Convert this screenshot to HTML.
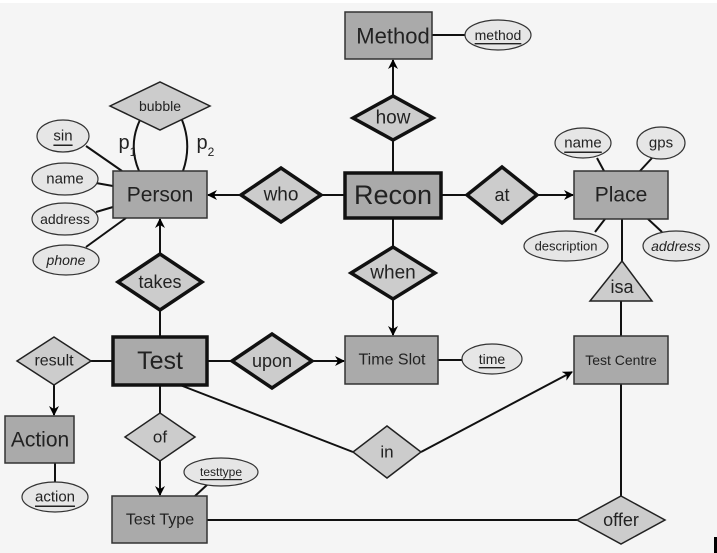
<!DOCTYPE html>
<html><head><style>
html,body{margin:0;padding:0;background:#fff;}
svg{display:block;}
text{font-family:"Liberation Sans",sans-serif;fill:#222;text-anchor:middle;dominant-baseline:central;}
</style></head><body>
<svg width="717" height="553" viewBox="0 0 717 553" xmlns="http://www.w3.org/2000/svg">
<defs>
<marker id="a" markerWidth="10" markerHeight="10" refX="9" refY="5" orient="auto" markerUnits="userSpaceOnUse">
<path d="M0,0 L10,5 L0,10 L3,5 z" fill="#000"/></marker>
</defs>
<rect x="0" y="3" width="717" height="550" fill="#f5f5f5"/>
<rect x="714" y="537" width="3" height="16" fill="#000"/>
<g stroke="#111" stroke-width="2" fill="none">
<!-- lines -->
<line x1="393" y1="96" x2="393" y2="60" marker-end="url(#a)"/>
<line x1="393" y1="140" x2="393" y2="172"/>
<line x1="432" y1="35" x2="465" y2="35"/>
<line x1="344" y1="195" x2="321" y2="195"/>
<line x1="241" y1="195" x2="208" y2="195" marker-end="url(#a)"/>
<line x1="441" y1="195" x2="467" y2="195"/>
<line x1="537" y1="195" x2="573" y2="195" marker-end="url(#a)"/>
<line x1="393" y1="218" x2="393" y2="247"/>
<line x1="393" y1="299" x2="393" y2="335" marker-end="url(#a)"/>
<line x1="160" y1="254" x2="160" y2="219" marker-end="url(#a)"/>
<line x1="160" y1="310" x2="160" y2="336"/>
<line x1="207" y1="361" x2="232" y2="361"/>
<line x1="312" y1="361" x2="344" y2="361" marker-end="url(#a)"/>
<line x1="438" y1="360" x2="462" y2="360"/>
<line x1="112" y1="361" x2="91" y2="361"/>
<line x1="54" y1="385" x2="54" y2="415" marker-end="url(#a)"/>
<line x1="55" y1="463" x2="55" y2="482"/>
<line x1="160" y1="385" x2="160" y2="413"/>
<line x1="160" y1="461" x2="160" y2="495" marker-end="url(#a)"/>
<line x1="195" y1="496" x2="208" y2="484"/>
<line x1="180" y1="385" x2="353" y2="452"/>
<line x1="421" y1="452" x2="572" y2="372" marker-end="url(#a)"/>
<line x1="207" y1="520" x2="577" y2="520"/>
<line x1="621" y1="384" x2="621" y2="496"/>
<line x1="621" y1="301" x2="621" y2="336"/>
<line x1="622" y1="219" x2="622" y2="261"/>
<line x1="597" y1="158" x2="604" y2="171"/>
<line x1="652" y1="158" x2="640" y2="171"/>
<line x1="595" y1="232" x2="605" y2="219"/>
<line x1="662" y1="232" x2="648" y2="219"/>
<line x1="86" y1="146" x2="122" y2="171"/>
<line x1="96" y1="183" x2="113" y2="186"/>
<line x1="96" y1="212" x2="113" y2="207"/>
<line x1="86" y1="247" x2="126" y2="218"/>
<path d="M140,120 Q128,145 139,171"/>
<path d="M182,120 Q192,145 183,171"/>
</g>
<!-- entities -->
<g fill="#aaa" stroke="#333" stroke-width="1.5">
<rect x="345" y="12" width="87" height="47"/>
<rect x="113" y="171" width="94" height="47"/>
<rect x="574" y="171" width="94" height="48"/>
<rect x="345" y="336" width="93" height="48"/>
<rect x="574" y="336" width="94" height="48"/>
<rect x="5" y="416" width="69" height="47"/>
<rect x="112" y="496" width="95" height="47"/>
</g>
<g fill="#aaa" stroke="#111" stroke-width="3.5">
<rect x="345" y="173" width="96" height="45"/>
<rect x="113" y="337" width="94" height="48"/>
</g>
<!-- relationships -->
<g fill="#ccc" stroke="#111" stroke-width="3.5">
<polygon points="353,118 393,96 433,118 393,140"/>
<polygon points="241,195 281,168 321,195 281,222"/>
<polygon points="467,195 502,167 537,195 502,223"/>
<polygon points="351,273 393,247 435,273 393,299"/>
<polygon points="118,282 160,254 202,282 160,310"/>
<polygon points="232,361 272,334 312,361 272,388"/>
</g>
<g fill="#ccc" stroke="#222" stroke-width="1.5">
<polygon points="110,106 160,82 210,106 160,130"/>
<polygon points="17,361 54,337 91,361 54,385"/>
<polygon points="125,437 160,413 195,437 160,461"/>
<polygon points="353,452 387,426 421,452 387,478"/>
<polygon points="577,520 621,496 665,520 621,544"/>
<polygon points="622,261 652,301 590,301"/>
</g>
<!-- attributes -->
<g fill="#e6e6e6" stroke="#333" stroke-width="1.2">
<ellipse cx="498" cy="35" rx="33" ry="15"/>
<ellipse cx="63" cy="136" rx="26" ry="16"/>
<ellipse cx="65" cy="179" rx="33" ry="16"/>
<ellipse cx="65" cy="219" rx="33" ry="16"/>
<ellipse cx="66" cy="260" rx="33" ry="15"/>
<ellipse cx="583" cy="143" rx="28" ry="15"/>
<ellipse cx="661" cy="143" rx="24" ry="16"/>
<ellipse cx="566" cy="246" rx="42" ry="15"/>
<ellipse cx="676" cy="246" rx="33" ry="15"/>
<ellipse cx="492" cy="359" rx="30" ry="15"/>
<ellipse cx="55" cy="497" rx="33" ry="15"/>
<ellipse cx="221" cy="472" rx="37" ry="14"/>
</g>
<!-- labels -->
<text x="393" y="36" font-size="22">Method</text>
<text x="393" y="195" font-size="27">Recon</text>
<text x="160" y="195" font-size="21">Person</text>
<text x="621" y="195" font-size="21">Place</text>
<text x="392" y="360" font-size="16">Time Slot</text>
<text x="621" y="360" font-size="14">Test Centre</text>
<text x="160" y="361" font-size="25">Test</text>
<text x="40" y="440" font-size="21">Action</text>
<text x="160" y="520" font-size="16">Test Type</text>
<text x="393" y="118" font-size="19">how</text>
<text x="281" y="195" font-size="19">who</text>
<text x="502" y="195" font-size="18">at</text>
<text x="393" y="273" font-size="19">when</text>
<text x="160" y="282" font-size="18">takes</text>
<text x="272" y="361" font-size="18">upon</text>
<text x="160" y="106" font-size="14">bubble</text>
<text x="54" y="361" font-size="16">result</text>
<text x="160" y="437" font-size="17">of</text>
<text x="387" y="452" font-size="17">in</text>
<text x="621" y="520" font-size="18">offer</text>
<text x="622" y="287" font-size="18">isa</text>
<text x="124" y="143" font-size="20">p</text><text x="133" y="152" font-size="12">1</text>
<text x="202" y="143" font-size="20">p</text><text x="211" y="152" font-size="12">2</text>
<text x="498" y="35" font-size="14" text-decoration="underline">method</text>
<text x="63" y="136" font-size="15" text-decoration="underline">sin</text>
<text x="65" y="179" font-size="15">name</text>
<text x="65" y="219" font-size="14">address</text>
<text x="66" y="260" font-size="14" font-style="italic">phone</text>
<text x="583" y="143" font-size="15" text-decoration="underline">name</text>
<text x="661" y="143" font-size="15">gps</text>
<text x="566" y="246" font-size="13">description</text>
<text x="676" y="246" font-size="14" font-style="italic">address</text>
<text x="492" y="359" font-size="14" text-decoration="underline">time</text>
<text x="55" y="497" font-size="15" text-decoration="underline">action</text>
<text x="221" y="472" font-size="12" text-decoration="underline">testtype</text>
</svg>
</body></html>
